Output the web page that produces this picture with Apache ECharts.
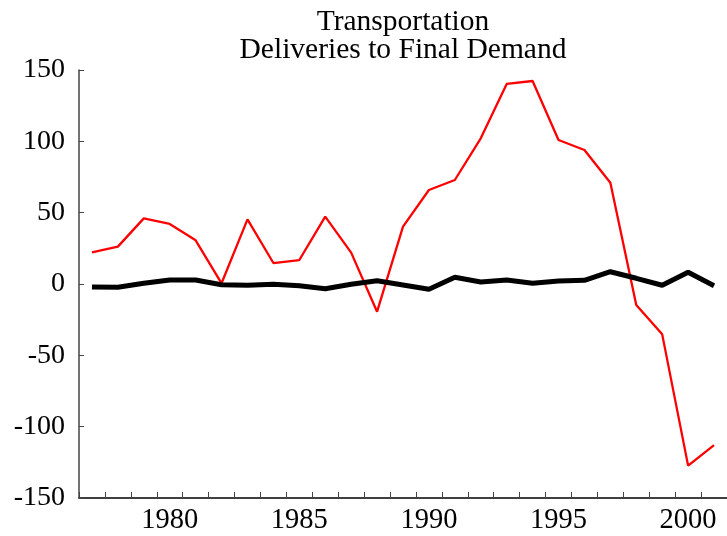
<!DOCTYPE html>
<html>
<head>
<meta charset="utf-8">
<script src="https://cdn.jsdelivr.net/npm/echarts@6/dist/echarts.min.js"></script>
<style>html,body{margin:0;padding:0;background:#fff}#c{width:727px;height:536px}</style>
</head>
<body>
<div id="c"></div>
<script>
var years = [1977,1978,1979,1980,1981,1982,1983,1984,1985,1986,1987,1988,1989,1990,1991,1992,1993,1994,1995,1996,1997,1998,1999,2000,2001];
var redSeries = [22.2,26.2,46.0,42.1,30.6,0.5,45.3,14.7,16.8,47.2,22.0,-19.4,40.2,65.9,72.9,102.1,140.2,142.3,100.9,93.9,71.0,-14.7,-35.3,-127.3,-112.9];
var blackSeries = [-2.1,-2.3,0.5,2.8,2.8,-0.5,-0.9,-0.2,-1.2,-3.3,-0.2,2.3,-0.7,-3.7,4.7,1.4,2.8,0.5,2.1,2.6,8.6,4.0,-0.9,8.2,-1.2];
var yTicks = {min: -150, max: 150, interval: 50};
var titleLines = ['Transportation', 'Deliveries to Final Demand'];

var chart = echarts.init(document.getElementById('c'));
var font = 'Liberation Serif';
chart.setOption({
  animation: false,
  backgroundColor: '#fff',
  title: {
    text: titleLines.join('\n'),
    left: 398, top: 3, textAlign: 'center',
    textStyle: {fontFamily: font, fontSize: 29.5, fontWeight: 'normal', color: '#000', lineHeight: 28}
  },
  grid: {left: 79, top: 70, width: 650, height: 428, containLabel: false},
  xAxis: {
    type: 'category',
    data: years.map(String),
    boundaryGap: true,
    axisLine: {onZero: false, lineStyle: {color: '#000', width: 1.5}},
    axisTick: {show: true, inside: true, length: 6, interval: 0, alignWithLabel: false, lineStyle: {color: '#444'}},
    axisLabel: {
      interval: function (i, v) { return Number(v) % 5 === 0; },
      fontFamily: font, fontSize: 28.5, color: '#000', margin: 8
    },
    splitLine: {show: false}
  },
  yAxis: {
    type: 'value',
    min: yTicks.min, max: yTicks.max, interval: yTicks.interval,
    axisLine: {show: true, lineStyle: {color: '#444', width: 1.5}},
    axisTick: {show: true, inside: true, length: 5, lineStyle: {color: '#444'}},
    axisLabel: {fontFamily: font, fontSize: 28, color: '#000', margin: 14},
    splitLine: {show: false}
  },
  series: [
    {type: 'line', data: redSeries, showSymbol: false, symbol: 'none',
     lineStyle: {color: '#ff0000', width: 2.3}, z: 2},
    {type: 'line', data: blackSeries, showSymbol: false, symbol: 'none',
     lineStyle: {color: '#000', width: 5}, z: 3}
  ]
});
</script>
</body>
</html>
